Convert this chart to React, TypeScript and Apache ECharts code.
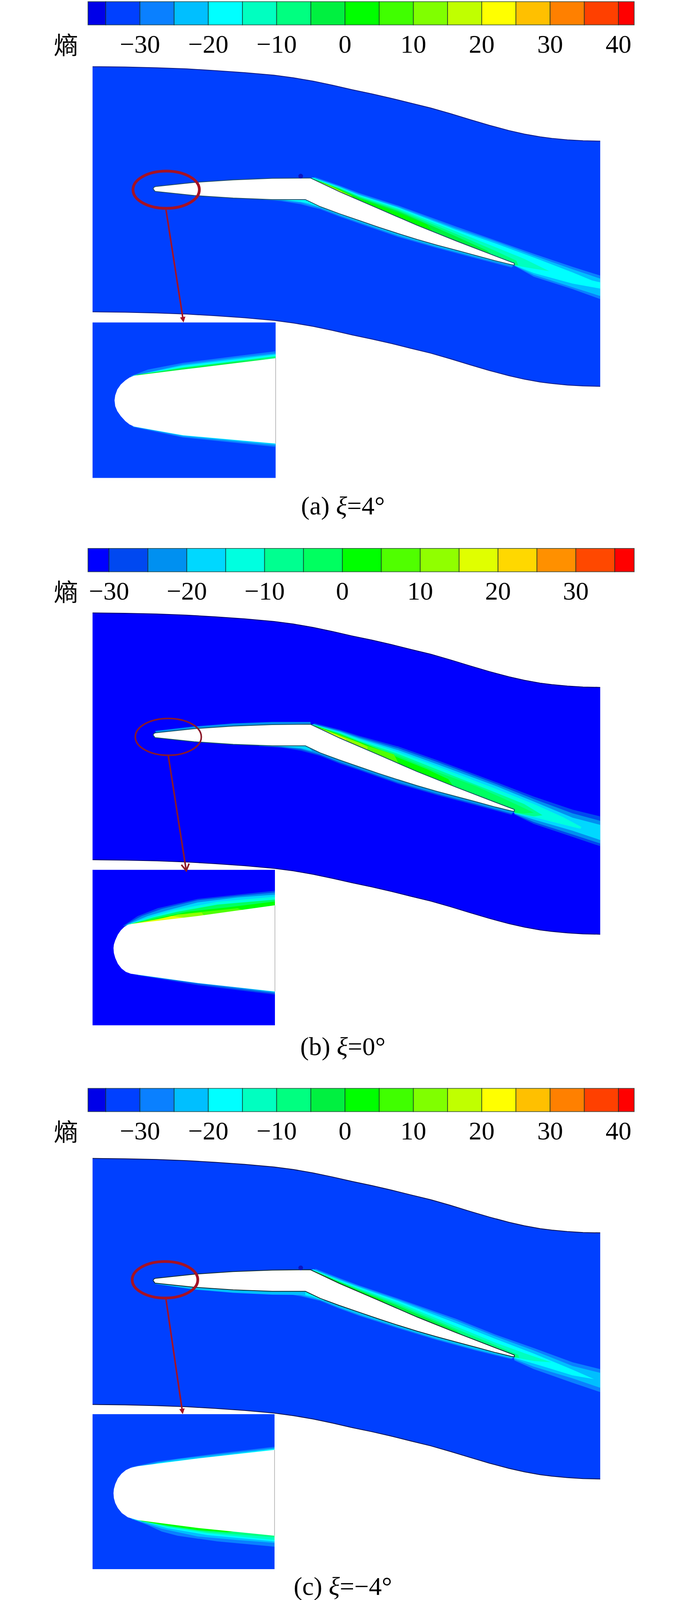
import React, { useEffect, useRef, useState } from "react";
import * as echarts from "echarts";

type Pt = [number, number];
type Band = { s: number; pts: Pt[] };

// Colour scale: entropy levels and band colours
const levelsAC = [-37.6, -35, -30, -25, -20, -15, -10, -5, 0, 5, 10, 15, 20, 25, 30, 35, 40, 42.3];
const coloursAC = ["#0000e8", "#0040ff", "#0a80ff", "#00bfff", "#00ffff", "#00ffc0", "#00ff80", "#00f040", "#00ff00", "#40ff00", "#80ff00", "#c0ff00", "#ffff00", "#ffc000", "#ff8000", "#ff4000", "#ff0000"];
const ticksAC = [-30, -20, -10, 0, 10, 20, 30, 40];
const levelsB = [-32.7, -30, -25, -20, -15, -10, -5, 0, 5, 10, 15, 20, 25, 30, 35, 37.5];
const coloursB = ["#0000ff", "#0048f0", "#0090f0", "#00d8ff", "#00ffe0", "#00ff90", "#00ff60", "#00ff00", "#50ff00", "#90ff00", "#e0ff00", "#ffd800", "#ff9000", "#ff4800", "#ff0000"];
const ticksB = [-30, -20, -10, 0, 10, 20, 30];

// Passage geometry, flow coordinates
const wallTop: Pt[] = [[0, 1], [83, 2], [164, 4], [241, 7], [314, 11.5], [390, 17], [465, 24], [515, 31], [565, 40], [615, 51], [665, 63], [715, 74], [765, 86], [815, 99], [866, 112], [916, 127], [966, 143], [1016, 158.5], [1066, 172.5], [1106, 182], [1146, 189.5], [1176, 193.5], [1216, 197.5], [1256, 200], [1300, 201]];
const bladeOutline: Pt[] = [[155, 329], [157, 325], [161, 323], [260, 312], [360, 305], [460, 301], [558, 300], [632.5, 337], [732, 382], [831, 427], [931, 469], [1030, 509], [1080, 529], [1080, 534], [1073, 533], [1030, 522], [981, 508], [931, 494], [881, 480], [831, 465], [782, 449], [732, 432], [682, 414], [632, 396], [583, 377], [545, 358], [460, 358], [360, 354], [260, 347], [160, 336]];

// Entropy bands on the blade (rear view units)
const wakeInner: Pt[] = [[1095, 748], [800, 590], [600, 465], [400, 330], [200, 195], [70, 90]];
const lowerInner: Pt[] = [[1100, 752], [900, 670], [500, 490], [100, 270], [25, 215], [-215, 215]];

const wakeA: Band[] = [
  { s: -27.5, pts: [[70, 45], [200, 115], [300, 175], [500, 275], [800, 445], [1000, 555], [1200, 665], [1400, 770], [1542, 840], [1542, 1030], [1400, 950], [1200, 850], [1100, 762]] },
  { s: -22.5, pts: [[62, 48], [200, 122], [300, 185], [500, 285], [800, 460], [1000, 565], [1200, 680], [1400, 790], [1542, 865], [1542, 1005], [1400, 935], [1200, 835], [1100, 760]] },
  { s: -17.5, pts: [[58, 50], [200, 128], [300, 192], [500, 292], [800, 472], [1000, 580], [1200, 695], [1400, 815], [1500, 880], [1542, 895], [1542, 945], [1400, 905], [1200, 820], [1100, 758]] },
  { s: -12.5, pts: [[55, 52], [200, 133], [300, 198], [500, 300], [800, 485], [1000, 610], [1150, 705], [1280, 805], [1200, 785], [1100, 758]] },
  { s: -7.5, pts: [[55, 55], [200, 138], [300, 205], [500, 310], [800, 505], [1000, 640], [1110, 720], [1120, 755], [1100, 758]] },
  { s: -2.5, pts: [[60, 60], [200, 142], [300, 212], [500, 320], [800, 525], [960, 640], [1000, 700]] },
  { s: 2.5, pts: [[85, 75], [200, 147], [300, 220], [500, 333], [650, 430], [700, 520]] },
  { s: 12.5, pts: [[70, 68], [150, 115], [200, 152], [260, 195], [300, 250]] },
  { s: 22.5, pts: [[100, 92], [150, 125], [210, 165], [240, 205]] },
];
const lowerA: Band[] = [
  { s: -27.5, pts: [[-215, 226], [-100, 240], [0, 265], [60, 290], [100, 305], [200, 365], [300, 420], [500, 528], [700, 618], [900, 700], [1085, 775], [1100, 755]] },
  { s: -22.5, pts: [[-215, 226], [-100, 234], [0, 252], [60, 278], [100, 295], [200, 355], [300, 410], [500, 518], [700, 608], [900, 690], [1085, 762], [1100, 755]] },
  { s: -17.5, pts: [[-100, 228], [0, 245], [40, 258], [120, 300]] },
];
const wakeB: Band[] = [
  { s: -27.5, pts: [[70, 48], [200, 100], [300, 150], [500, 235], [700, 345], [1000, 520], [1200, 640], [1400, 745], [1542, 800], [1542, 1040], [1400, 965], [1200, 860], [1100, 785]] },
  { s: -22.5, pts: [[65, 52], [200, 108], [300, 160], [500, 250], [700, 360], [1000, 535], [1200, 660], [1400, 775], [1542, 835], [1542, 1018], [1400, 945], [1200, 845], [1100, 780]] },
  { s: -17.5, pts: [[60, 56], [200, 115], [300, 170], [500, 265], [700, 378], [1000, 552], [1200, 680], [1400, 810], [1542, 868], [1542, 990], [1400, 915], [1200, 825], [1100, 775]] },
  { s: -12.5, pts: [[58, 58], [200, 122], [300, 180], [500, 280], [700, 395], [1000, 575], [1200, 700], [1350, 805], [1445, 885], [1440, 900], [1300, 845], [1200, 805], [1100, 772]] },
  { s: -7.5, pts: [[58, 60], [200, 128], [300, 190], [500, 295], [700, 420], [1000, 605], [1150, 700], [1245, 790], [1200, 800], [1100, 770]] },
  { s: -2.5, pts: [[60, 62], [200, 133], [300, 198], [500, 310], [700, 440], [900, 555], [1050, 660], [1200, 770], [1150, 775], [1100, 768]] },
  { s: 2.5, pts: [[70, 68], [200, 138], [350, 228], [500, 325], [650, 420], [760, 500], [800, 590]] },
  { s: 7.5, pts: [[70, 70], [200, 143], [350, 235], [480, 300], [510, 390]] },
  { s: 12.5, pts: [[75, 73], [200, 150], [300, 205], [345, 240], [340, 300]] },
  { s: 17.5, pts: [[110, 100], [180, 140], [230, 175], [250, 215]] },
];
const lowerB: Band[] = [
  { s: -27.5, pts: [[-215, 232], [-100, 246], [0, 270], [100, 312], [200, 374], [300, 427], [500, 537], [700, 627], [900, 709], [1085, 787], [1100, 760]] },
  { s: -22.5, pts: [[-215, 232], [-100, 240], [0, 258], [100, 302], [200, 364], [300, 417], [500, 527], [700, 617], [900, 699], [1085, 777], [1100, 760]] },
  { s: -17.5, pts: [[-100, 236], [0, 250], [60, 275]] },
];
const wakeC: Band[] = [
  { s: -27.5, pts: [[75, 45], [200, 122], [300, 180], [500, 285], [800, 450], [1000, 575], [1200, 685], [1400, 800], [1542, 855], [1542, 1040], [1400, 965], [1200, 855], [1100, 785]] },
  { s: -22.5, pts: [[65, 48], [200, 130], [300, 188], [500, 295], [800, 465], [1000, 590], [1200, 705], [1400, 830], [1542, 885], [1542, 1005], [1400, 930], [1200, 835], [1100, 775]] },
  { s: -17.5, pts: [[60, 50], [200, 138], [300, 196], [500, 305], [800, 485], [1000, 610], [1200, 730], [1400, 860], [1510, 935], [1400, 905], [1200, 810], [1100, 765]] },
  { s: -12.5, pts: [[55, 52], [200, 145], [300, 205], [500, 318], [800, 510], [1000, 640], [1150, 725], [1290, 800], [1200, 790], [1100, 760]] },
  { s: -7.5, pts: [[52, 55], [200, 150], [300, 213], [500, 332], [800, 530], [1000, 660], [1120, 740], [1125, 765], [1100, 760]] },
  { s: -2.5, pts: [[60, 60], [200, 155], [300, 220], [500, 345], [800, 545], [880, 630]] },
  { s: 2.5, pts: [[90, 78], [200, 158], [300, 226], [420, 300], [470, 380]] },
  { s: 12.5, pts: [[80, 70], [150, 125], [200, 162], [250, 205]] },
  { s: 17.5, pts: [[110, 95], [170, 140], [215, 185]] },
];
const lowerC: Band[] = [
  { s: -27.5, pts: [[-215, 226], [-100, 240], [0, 268], [100, 305], [200, 368], [300, 425], [500, 525], [700, 620], [900, 705], [1085, 775], [1100, 755]] },
  { s: -22.5, pts: [[-215, 226], [-100, 234], [0, 258], [100, 297], [200, 360], [300, 417], [500, 517], [700, 612], [900, 697], [1085, 767], [1100, 755]] },
  { s: -17.5, pts: [[-100, 230], [0, 250], [60, 270], [120, 305]] },
];
// Thin bands along the front of the blade, flow coordinates
const frontA: Band[] = [];
const frontB: Band[] = [{ s: -22.5, pts: [[160, 318], [260, 306], [360, 298], [460, 294], [558, 294], [560, 310], [360, 315], [165, 326]] }];
const frontC: Band[] = [{ s: -22.5, pts: [[160, 338], [260, 353], [360, 362], [460, 367], [545, 368], [545, 350], [460, 350], [260, 340], [165, 330]] }];

// Enlarged nose views
const noseA: Pt[] = [[566, 587], [300, 655], [160, 692], [147, 703], [135, 720], [122, 745], [112, 775], [106, 810], [104, 840], [106, 875], [112, 905], [122, 935], [135, 965], [147, 985], [160, 998], [300, 1050], [566, 1100]];
const noseUpperInnerA: Pt[] = [[566, 600], [300, 670], [160, 710]];
const noseLowerInnerA: Pt[] = [[566, 1090], [300, 1040], [160, 990]];
const insetUpperA: Band[] = [
  { s: -27.5, pts: [[150, 695], [200, 655], [300, 615], [450, 575], [566, 545]] },
  { s: -22.5, pts: [[155, 693], [300, 625], [450, 585], [566, 558]] },
  { s: -17.5, pts: [[158, 692], [300, 632], [566, 565]] },
  { s: -7.5, pts: [[160, 690], [300, 642], [566, 575]] },
  { s: -2.5, pts: [[170, 685], [300, 648], [450, 610], [520, 595], [566, 590]] },
];
const insetLowerA: Band[] = [
  { s: -27.5, pts: [[155, 1000], [300, 1063], [566, 1120]] },
  { s: -22.5, pts: [[160, 998], [300, 1056], [566, 1110]] },
  { s: -17.5, pts: [[170, 1002], [300, 1051], [566, 1102]] },
];
const noseB: Pt[] = [[988, 605], [600, 680], [270, 735], [250, 742], [232, 757], [215, 780], [200, 810], [187, 850], [180, 880], [178, 905], [180, 940], [187, 975], [200, 1015], [218, 1048], [240, 1072], [265, 1085], [300, 1092], [600, 1150], [988, 1210]];
const noseUpperInnerB: Pt[] = [[988, 640], [600, 710], [270, 760]];
const noseLowerInnerB: Pt[] = [[988, 1190], [600, 1130], [300, 1075]];
const insetUpperB: Band[] = [
  { s: -27.5, pts: [[225, 750], [300, 680], [400, 625], [600, 560], [800, 530], [988, 503]] },
  { s: -22.5, pts: [[235, 745], [320, 680], [420, 630], [600, 570], [800, 540], [988, 515]] },
  { s: -17.5, pts: [[245, 742], [350, 680], [450, 640], [600, 585], [800, 550], [988, 530]] },
  { s: -12.5, pts: [[250, 740], [360, 690], [480, 640], [700, 580], [988, 545]] },
  { s: -2.5, pts: [[258, 738], [380, 690], [500, 650], [700, 600], [988, 565]] },
  { s: 2.5, pts: [[265, 737], [400, 695], [550, 650], [750, 620], [988, 578]] },
  { s: 7.5, pts: [[270, 735], [400, 700], [560, 660], [800, 625], [850, 650]] },
  { s: 12.5, pts: [[280, 732], [400, 705], [500, 670], [620, 655], [640, 690]] },
  { s: 17.5, pts: [[300, 728], [400, 703], [470, 680], [530, 690]] },
];
const insetLowerB: Band[] = [
  { s: -27.5, pts: [[280, 1090], [600, 1165], [988, 1232]] },
  { s: -22.5, pts: [[300, 1095], [600, 1155], [988, 1222]] },
  { s: -17.5, pts: [[700, 1163], [988, 1214]] },
];
const noseC: Pt[] = [[986, 510], [600, 570], [300, 625], [265, 636], [240, 652], [218, 678], [200, 710], [187, 750], [180, 785], [178, 815], [180, 850], [187, 885], [200, 920], [220, 955], [250, 985], [300, 1005], [600, 1060], [986, 1115]];
const noseUpperInnerC: Pt[] = [[986, 540], [600, 600], [280, 650]];
const noseLowerInnerC: Pt[] = [[986, 1090], [600, 1035], [300, 980], [255, 965]];
const insetUpperC: Band[] = [
  { s: -27.5, pts: [[270, 630], [400, 590], [700, 535], [986, 488]] },
  { s: -22.5, pts: [[300, 625], [500, 575], [750, 535], [986, 497]] },
  { s: -17.5, pts: [[400, 602], [700, 553], [986, 503]] },
];
const insetLowerC: Band[] = [
  { s: -27.5, pts: [[250, 985], [350, 1040], [420, 1085], [500, 1115], [700, 1155], [986, 1192]] },
  { s: -22.5, pts: [[270, 997], [420, 1065], [600, 1120], [800, 1145], [986, 1165]] },
  { s: -17.5, pts: [[285, 1000], [450, 1062], [650, 1110], [986, 1155]] },
  { s: -12.5, pts: [[295, 1003], [450, 1055], [650, 1098], [986, 1145]] },
  { s: -7.5, pts: [[300, 1005], [450, 1048], [650, 1090], [800, 1105], [986, 1125]] },
  { s: 2.5, pts: [[320, 1012], [450, 1043], [600, 1075], [750, 1090], [800, 1082]] },
];

const FONT = '"Liberation Serif", "Times New Roman", serif';
const PAGE_H = 4297;

type Poly = { pts: Pt[]; fill: string; stroke?: string; lw?: number; open?: boolean };

const colourOf = (s: number, levels: number[], colours: string[]) => {
  for (let i = 0; i < colours.length; i++) if (s >= levels[i] && s < levels[i + 1]) return colours[i];
  return colours[0];
};
const bandPolys = (bands: Band[], inner: Pt[], levels: number[], colours: string[]): Poly[] =>
  bands.map((b) => {
    const lastX = b.pts[b.pts.length - 1][0];
    return { pts: [...b.pts, ...inner.filter((p) => p[0] <= lastX)], fill: colourOf(b.s, levels, colours) };
  });

const polyRender = (polys: Poly[]) => (params: any, api: any) => {
  const p = polys[params.dataIndex];
  const points = p.pts.map((q) => api.coord(q));
  return {
    type: p.open ? "polyline" : "polygon",
    shape: { points },
    style: { fill: p.open ? "none" : p.fill, stroke: p.stroke || "none", lineWidth: p.lw || 0 },
  };
};
const polySeries = (axis: number, polys: Poly[], z: number) => ({
  type: "custom",
  coordinateSystem: "cartesian2d",
  xAxisIndex: axis,
  yAxisIndex: axis,
  silent: true,
  z,
  renderItem: polyRender(polys),
  data: polys.map((_, i) => [i, 0]),
});

type Panel = {
  barTop: number; levels: number[]; colours: string[]; ticks: number[];
  flowTop: number; pitch: number; wake: Band[]; lower: Band[]; front: Band[]; wakeTop: number;
  edge: string; wallEdge: string;
  inset: { top: number; w: number; h: number; x0: number; x1: number; y0: number; y1: number };
  nose: Pt[]; upperInner: Pt[]; lowerInner: Pt[]; insetUpper: Band[]; insetLower: Band[];
  ring: { cx: number; cy: number; rx: number; ry: number; lw: number; colour: string };
  arrow: { from: Pt; tip: Pt; lw: number; open: boolean };
  dot: Pt | null;
  cap: { y: number; pre: string; post: string; wordY: number; };
};

const panels: Panel[] = [
  {
    barTop: 4.5, levels: levelsAC, colours: coloursAC, ticks: ticksAC, flowTop: 178, pitch: 658.5, wake: wakeA, lower: lowerA, front: frontA, wakeTop: 460,
    edge: "#1a4a66", wallEdge: "#0a1a80",
    inset: { top: 866, w: 468.8, h: 417.6, x0: 41, x1: 566, y0: 372, y1: 1307 },
    nose: noseA, upperInner: noseUpperInnerA, lowerInner: noseLowerInnerA, insetUpper: insetUpperA, insetLower: insetLowerA,
    ring: { cx: 188.5, cy: 331.5, rx: 85, ry: 50, lw: 7, colour: "#a51225" },
    arrow: { from: [188, 385], tip: [233, 688], lw: 4, open: false },
    dot: [533, 295],
    cap: { y: 1358, pre: "(a) ", post: "=4°", wordY: 118 },
  },
  {
    barTop: 1473, levels: levelsB, colours: coloursB, ticks: ticksB, flowTop: 1645, pitch: 663, wake: wakeB, lower: lowerB, front: frontB, wakeTop: 1926,
    edge: "#105060", wallEdge: "#00006a",
    inset: { top: 2336, w: 467, h: 417.6, x0: 73, x1: 988, y0: 356, y1: 1447 },
    nose: noseB, upperInner: noseUpperInnerB, lowerInner: noseLowerInnerB, insetUpper: insetUpperB, insetLower: insetLowerB,
    ring: { cx: 194, cy: 334, rx: 84.5, ry: 49.5, lw: 4, colour: "#8b1a2a" },
    arrow: { from: [194, 385], tip: [240, 693.5], lw: 4, open: true },
    dot: null,
    cap: { y: 2810, pre: "(b) ", post: "=0°", wordY: 1586 },
  },
  {
    barTop: 2923, levels: levelsAC, colours: coloursAC, ticks: ticksAC, flowTop: 3110, pitch: 661, wake: wakeC, lower: lowerC, front: frontC, wakeTop: 3392,
    edge: "#0a2a30", wallEdge: "#06104a",
    inset: { top: 3798, w: 466, h: 416, x0: 73, x1: 986, y0: 258, y1: 1350 },
    nose: noseC, upperInner: noseUpperInnerC, lowerInner: noseLowerInnerC, insetUpper: insetUpperC, insetLower: insetLowerC,
    ring: { cx: 185.5, cy: 327, rx: 84, ry: 49, lw: 7, colour: "#a51225" },
    arrow: { from: [188, 379], tip: [231, 688], lw: 4, open: false },
    dot: [533, 295],
    cap: { y: 4260, pre: "(c) ", post: "=−4°", wordY: 3036 },
  },
];

const hiddenAxis = (gridIndex: number, min: number, max: number, inverse = false) => ({
  type: "value", gridIndex, min, max, inverse, show: false, splitLine: { show: false },
});

function buildOption(sy: number) {
  const grid: any[] = [];
  const xAxis: any[] = [];
  const yAxis: any[] = [];
  const series: any[] = [];
  const graphic: any[] = [];

  panels.forEach((p, k) => {
    const g0 = k * 4;
    const bg = colourOf(k === 1 ? -31 : -32.5, p.levels, p.colours);

    // colour bar
    grid.push({ left: 225.3, top: p.barTop * sy, width: 1398.7, height: 62.5 * sy });
    xAxis.push({
      type: "value", gridIndex: g0, min: p.levels[0], max: p.levels[p.levels.length - 1],
      axisLine: { show: false }, axisTick: { show: false }, splitLine: { show: false },
      axisLabel: {
        customValues: p.ticks, margin: 16, color: "#000", fontFamily: FONT, fontSize: 66,
        hideOverlap: false, formatter: (v: number) => String(v).replace("-", "\u2212"),
      },
    });
    yAxis.push(hiddenAxis(g0, 0, 1));
    series.push({
      type: "custom", coordinateSystem: "cartesian2d", xAxisIndex: g0, yAxisIndex: g0, silent: true, z: 2,
      renderItem: (params: any, api: any) => {
        const i = params.dataIndex;
        const a = api.coord([p.levels[i], 1]);
        const b = api.coord([p.levels[i + 1], 0]);
        return {
          type: "rect",
          shape: { x: a[0], y: a[1], width: b[0] - a[0], height: b[1] - a[1] },
          style: { fill: p.colours[i], stroke: "rgba(20,50,40,0.7)", lineWidth: 2 },
        };
      },
      data: p.colours.map((_, i) => [p.levels[i], 0]),
    });

    // passage
    grid.push({ left: 237, top: p.flowTop * sy, width: 1300, height: 900 * sy });
    xAxis.push(hiddenAxis(g0 + 1, 0, 1300));
    yAxis.push(hiddenAxis(g0 + 1, 0, 900, true));
    const wallBottom: Pt[] = wallTop.map(([x, y]) => [x, y + p.pitch]);
    series.push(polySeries(g0 + 1, [{ pts: [...wallTop, ...[...wallBottom].reverse()], fill: bg }], 2));
    series.push(polySeries(g0 + 1, [
      { pts: wallTop, fill: "none", stroke: p.wallEdge, lw: 2, open: true },
      { pts: wallBottom, fill: "none", stroke: p.wallEdge, lw: 2, open: true },
    ], 6));

    // wake bands
    grid.push({ left: 770, top: p.wakeTop * sy, width: 780, height: 390 * sy });
    xAxis.push(hiddenAxis(g0 + 2, 0, 1568));
    yAxis.push(hiddenAxis(g0 + 2, 0, 1170, true));
    series.push(polySeries(g0 + 2, bandPolys(p.lower, lowerInner, p.levels, p.colours), 3));
    series.push(polySeries(g0 + 2, bandPolys(p.wake, wakeInner, p.levels, p.colours), 3));
    series.push(polySeries(g0 + 1, bandPolys(p.front, [], p.levels, p.colours), 3));

    // blade
    series.push(polySeries(g0 + 1, [{ pts: bladeOutline, fill: "#ffffff", stroke: p.edge, lw: 2 }], 4));

    // enlarged nose
    const ins = p.inset;
    grid.push({ left: 237, top: ins.top * sy, width: ins.w, height: ins.h * sy });
    xAxis.push(hiddenAxis(g0 + 3, ins.x0, ins.x1));
    yAxis.push(hiddenAxis(g0 + 3, ins.y0, ins.y1, true));
    series.push(polySeries(g0 + 3, [
      { pts: [[ins.x0, ins.y0], [ins.x1, ins.y0], [ins.x1, ins.y1], [ins.x0, ins.y1]], fill: bg },
      ...bandPolys(p.insetUpper, p.upperInner, p.levels, p.colours),
      ...bandPolys(p.insetLower, p.lowerInner, p.levels, p.colours),
      { pts: p.nose, fill: "#ffffff" },
      { pts: [p.nose[0], p.nose[p.nose.length - 1]], fill: "none", stroke: "#aaaaaa", lw: 1.5, open: true },
    ], 7));

    // marker ring, arrow, small dot
    series.push({
      type: "custom", coordinateSystem: "cartesian2d", xAxisIndex: g0 + 1, yAxisIndex: g0 + 1, silent: true, z: 9,
      data: [[0, 0]],
      renderItem: (_params: any, api: any) => {
        const r = p.ring;
        const c = api.coord([r.cx, r.cy]);
        const e = api.coord([r.cx + r.rx, r.cy + r.ry]);
        const from = api.coord(p.arrow.from);
        const tip = api.coord(p.arrow.tip);
        const dx = tip[0] - from[0];
        const dy = tip[1] - from[1];
        const len = Math.hypot(dx, dy);
        const ux = dx / len;
        const uy = dy / len;
        const headL = p.arrow.open ? 17 : 14;
        const headW = p.arrow.open ? 10 : 7;
        const l: Pt = [tip[0] - ux * headL - uy * headW, tip[1] - uy * headL + ux * headW];
        const rr: Pt = [tip[0] - ux * headL + uy * headW, tip[1] - uy * headL - ux * headW];
        const children: any[] = [
          { type: "line", shape: { x1: from[0], y1: from[1], x2: tip[0] - ux * 4, y2: tip[1] - uy * 4 }, style: { stroke: r.colour, lineWidth: p.arrow.lw } },
          p.arrow.open
            ? { type: "polyline", shape: { points: [l, tip, rr] }, style: { fill: "none", stroke: r.colour, lineWidth: 4 } }
            : { type: "polygon", shape: { points: [l, tip, rr] }, style: { fill: r.colour } },
          { type: "ellipse", shape: { cx: c[0], cy: c[1], rx: e[0] - c[0], ry: e[1] - c[1] }, style: { fill: "none", stroke: r.colour, lineWidth: r.lw } },
        ];
        if (p.dot) {
          const d = api.coord(p.dot);
          children.push({ type: "circle", shape: { cx: d[0], cy: d[1], r: 6 }, style: { fill: "#0a14c0" } });
        }
        return { type: "group", children };
      },
    });

    graphic.push({
      type: "text", x: 169, y: p.cap.wordY * sy, z: 10,
      style: { text: "熵", fontFamily: '"Noto Sans CJK SC"', fontSize: 62, fill: "#000", align: "center", verticalAlign: "middle" },
    });
    graphic.push({
      type: "text", x: 878, y: p.cap.y * sy, z: 10,
      style: {
        text: `{r|${p.cap.pre}}{i|ξ}{r|${p.cap.post}}`,
        align: "center", verticalAlign: "middle", fill: "#000",
        fontFamily: FONT, fontSize: 66,
        rich: {
          r: { fontFamily: FONT, fontSize: 66, fill: "#000" },
          i: { fontFamily: FONT, fontSize: 66, fontStyle: "italic", fill: "#000" },
        },
      },
    });
  });

  return { animation: false, backgroundColor: "#ffffff", grid, xAxis, yAxis, series, graphic };
}

export default function App() {
  const ref = useRef<HTMLDivElement>(null);
  // The page must fit the window that is photographed, so the layout follows its real height.
  const [height] = useState(() => Math.min(window.innerHeight || PAGE_H, PAGE_H));
  useEffect(() => {
    if (!ref.current) return;
    document.documentElement.style.margin = "0";
    document.documentElement.style.overflow = "hidden";
    document.body.style.margin = "0";
    const chart = echarts.init(ref.current, undefined, { renderer: "svg" });
    chart.setOption(buildOption(height / PAGE_H) as any);
    return () => chart.dispose();
  }, [height]);
  return <div ref={ref} style={{ display: "block", width: 1772, height }} />;
}
